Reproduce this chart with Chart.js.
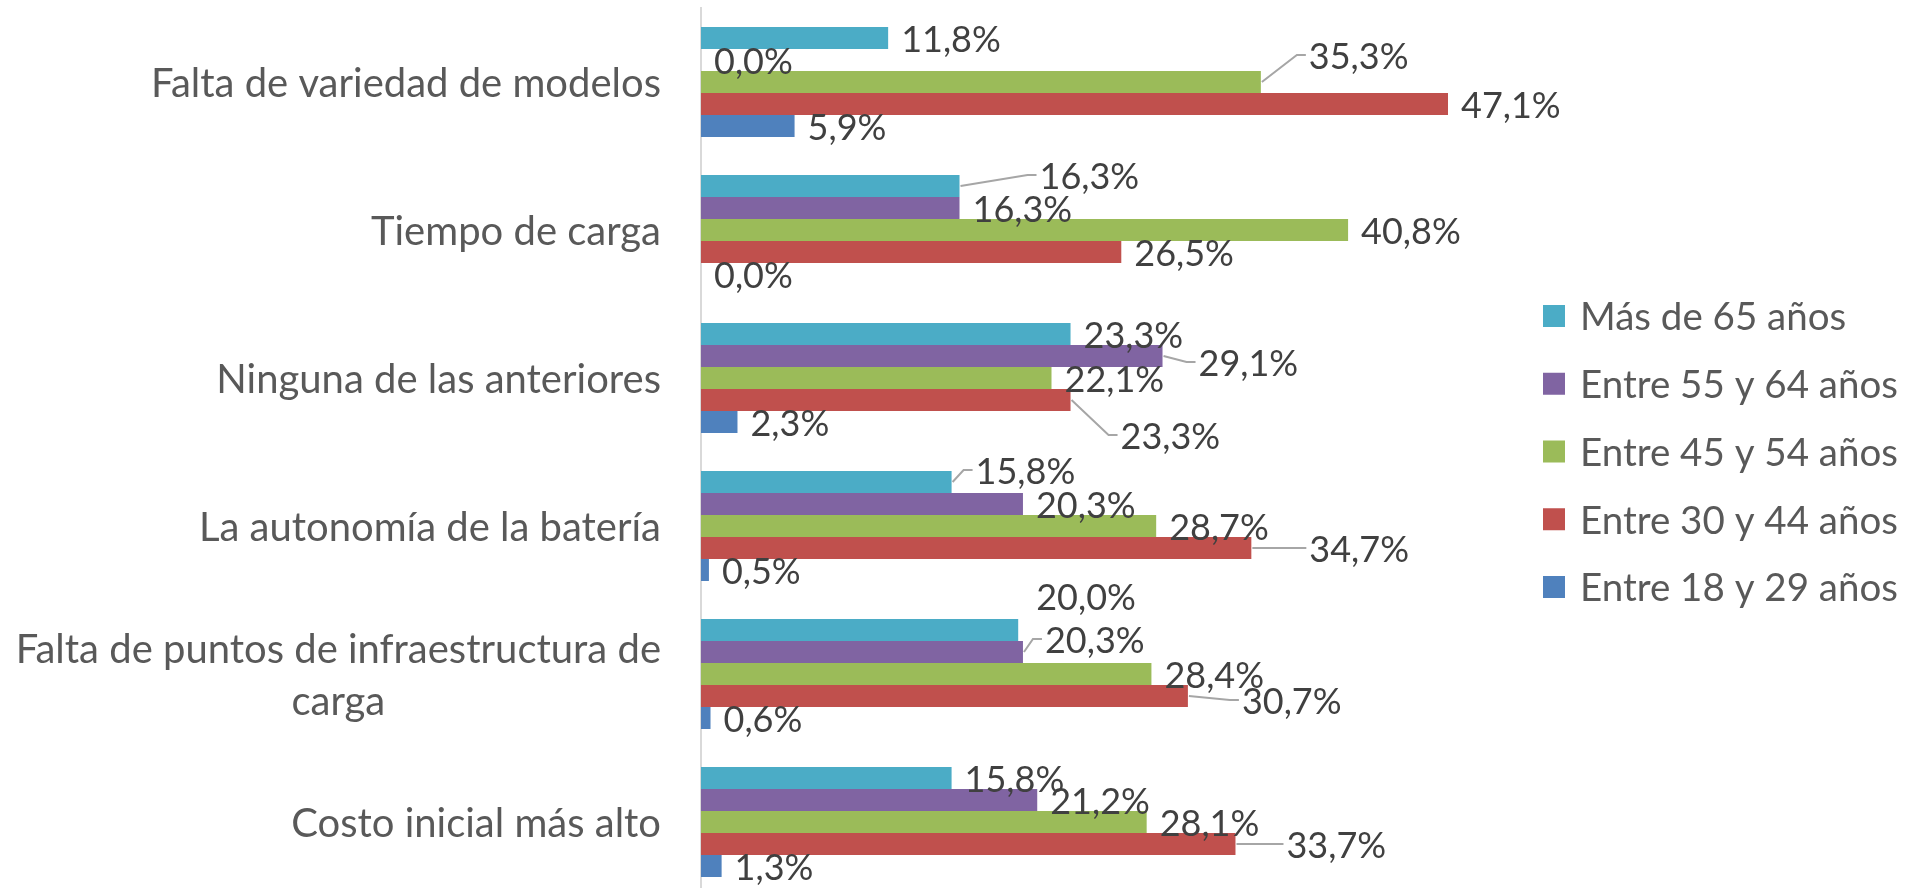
<!DOCTYPE html>
<html><head><meta charset="utf-8">
<script src="https://cdn.jsdelivr.net/npm/chart.js@4.4.1/dist/chart.umd.min.js"></script>
<style>html,body{margin:0;padding:0;background:#fff;overflow:hidden;} canvas{display:block;}</style>
</head><body>
<canvas id="c" width="1911" height="896"></canvas>
<script>
// ---- data ----
const categories = [
  "Falta de variedad de modelos",
  "Tiempo de carga",
  "Ninguna de las anteriores",
  "La autonomía de la batería",
  ["Falta de puntos de infraestructura de", "carga"],
  "Costo inicial más alto"
];
const seriesNames = ["Más de 65 años", "Entre 55 y 64 años", "Entre 45 y 54 años", "Entre 30 y 44 años", "Entre 18 y 29 años"];
const mas65  = [11.8, 16.3, 23.3, 15.8, 20.0, 15.8];
const e55_64 = [0.0, 16.3, 29.1, 20.3, 20.3, 21.2];
const e45_54 = [35.3, 40.8, 22.1, 28.7, 28.4, 28.1];
const e30_44 = [47.1, 26.5, 23.3, 34.7, 30.7, 33.7];
const e18_29 = [5.9, 0.0, 2.3, 0.5, 0.6, 1.3];
const seriesValues = [mas65, e55_64, e45_54, e30_44, e18_29];

// ---- style ----
const colors = ['#4BACC6', '#8064A2', '#9BBB59', '#C0504D', '#4F81BD'];
const FONT = 'Lato';
const catFontSize = 40, lblFontSize = 36, legFontSize = 38.5;
// manual label nudges (category-series): [dx, dy, leaderLine]
const labelNudges = {
  '0-2': [35, -27, true], '1-0': [67, -11, true], '2-1': [23, 6, true], '2-3': [37, 35, true],
  '3-0': [11, -12, true], '3-3': [45, 0, true], '4-0': [5, -34, false], '4-1': [9, -13, true],
  '4-3': [41, 4, true], '5-3': [38, 0, true]
};
const fmt = v => v.toFixed(1).replace('.', ',') + '%';

const dataLabels = {
  id: 'dataLabels',
  afterDatasetsDraw(chart) {
    const ctx = chart.ctx;
    ctx.save();
    ctx.font = lblFontSize + 'px ' + FONT;
    ctx.textAlign = 'left';
    ctx.textBaseline = 'middle';
    chart.data.datasets.forEach((ds, i) => {
      const meta = chart.getDatasetMeta(i);
      meta.data.forEach((el, j) => {
        const n = labelNudges[j + '-' + i] || [0, 0, false];
        const lx = el.x + 13 + n[0], ly = el.y + n[1];
        if (n[2]) {
          ctx.strokeStyle = '#A6A6A6';
          ctx.lineWidth = 2;
          ctx.beginPath();
          ctx.moveTo(el.x + 1, el.y);
          ctx.lineTo(lx - 12, ly);
          ctx.lineTo(lx - 3, ly);
          ctx.stroke();
        }
        ctx.fillStyle = '#404040';
        ctx.fillText(fmt(ds.data[j]), lx, ly + 2);
      });
    });
    ctx.restore();
  }
};

const catLabels = {
  id: 'catLabels',
  afterDraw(chart) {
    const ctx = chart.ctx, ys = chart.scales.y;
    ctx.save();
    ctx.font = catFontSize + 'px ' + FONT;
    ctx.fillStyle = '#595959';
    ctx.textBaseline = 'middle';
    ctx.textAlign = 'center';
    const right = chart.chartArea.left - 40, lh = 52;
    chart.data.labels.forEach((lab, i) => {
      const lines = Array.isArray(lab) ? lab : [lab];
      const w = Math.max(...lines.map(l => ctx.measureText(l).width));
      const cx = right - w / 2;
      const cy = ys.getPixelForValue(i);
      lines.forEach((l, k) => {
        ctx.fillText(l, cx, cy + (k - (lines.length - 1) / 2) * lh + 2);
      });
    });
    ctx.restore();
  }
};

const legendPlugin = {
  id: 'customLegend',
  afterDraw(chart) {
    const ctx = chart.ctx;
    ctx.save();
    ctx.font = legFontSize + 'px ' + FONT;
    ctx.textBaseline = 'middle';
    ctx.textAlign = 'left';
    chart.data.datasets.forEach((ds, i) => {
      const cy = 316 + i * 67.75;
      ctx.fillStyle = ds.backgroundColor;
      ctx.fillRect(1543, cy - 11, 22, 22);
      ctx.fillStyle = '#595959';
      ctx.fillText(ds.label, 1580, cy + 2);
    });
    ctx.restore();
  }
};

new Chart(document.getElementById('c'), {
  type: 'bar',
  data: {
    labels: categories,
    datasets: seriesNames.map((name, i) => ({
      label: name,
      data: seriesValues[i],
      backgroundColor: colors[i],
      borderWidth: 0,
      categoryPercentage: 0.743,
      barPercentage: 1.0
    }))
  },
  options: {
    indexAxis: 'y',
    responsive: false,
    animation: false,
    devicePixelRatio: 1,
    layout: { padding: { top: 8, right: 417, bottom: 0, left: 0 } },
    plugins: { legend: { display: false }, tooltip: { enabled: false } },
    scales: {
      x: { display: false, min: 0, max: 50 },
      y: {
        grid: { display: false },
        border: { display: true, color: '#D9D9D9', width: 2 },
        ticks: { display: false },
        afterFit(scale) { scale.width = 701; }
      }
    }
  },
  plugins: [dataLabels, catLabels, legendPlugin]
});
</script>
</body></html>
